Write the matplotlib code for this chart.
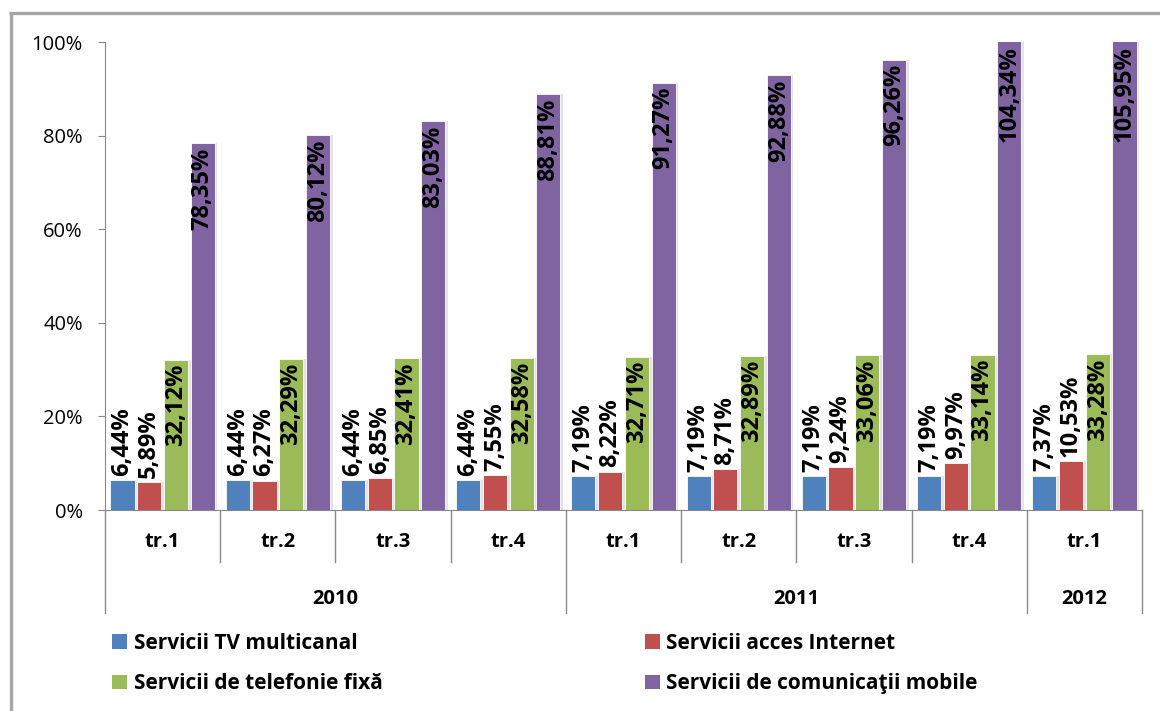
import matplotlib
matplotlib.use('Agg')
import matplotlib.pyplot as plt
import matplotlib.transforms as mtransforms
from matplotlib.patches import Patch
from matplotlib.lines import Line2D
import numpy as np

# === Data ===
quarters = ["tr.1", "tr.2", "tr.3", "tr.4", "tr.1", "tr.2", "tr.3", "tr.4", "tr.1"]
years = ["2010", "2011", "2012"]
year_spans = [(0, 4), (4, 8), (8, 9)]  # group index ranges for each year

series_names = ["Servicii TV multicanal", "Servicii acces Internet",
                "Servicii de telefonie fixă", "Servicii de comunicaţii mobile"]
tv = [6.44, 6.44, 6.44, 6.44, 7.19, 7.19, 7.19, 7.19, 7.37]
internet = [5.89, 6.27, 6.85, 7.55, 8.22, 8.71, 9.24, 9.97, 10.53]
fixed = [32.12, 32.29, 32.41, 32.58, 32.71, 32.89, 33.06, 33.14, 33.28]
mobile = [78.35, 80.12, 83.03, 88.81, 91.27, 92.88, 96.26, 104.34, 105.95]

colors = ["#4F81BD", "#C0504D", "#9BBB59", "#8064A2"]
inside_label = [False, False, True, True]  # label inside bar top vs above bar

plt.rcParams['font.family'] = ['Open Sans', 'DejaVu Sans']

fig = plt.figure(figsize=(11.6, 7.11), dpi=100)
# chart frame: only the left and top edges are visible in the original
fig.add_artist(Line2D([0.0091, 0.0091], [0, 0.9824], color='#a6a6a6', lw=2.4,
                      transform=fig.transFigure, solid_capstyle='butt'))
fig.add_artist(Line2D([0.0078, 1.0], [0.9824, 0.9824], color='#a6a6a6', lw=2.4,
                      transform=fig.transFigure, solid_capstyle='butt'))

ax = fig.add_axes([0.0905, 0.2827, 0.894, 0.6582])

x = np.arange(len(quarters))
step = 0.232
width = 0.21
all_series = [tv, internet, fixed, mobile]

for k, (vals, col) in enumerate(zip(all_series, colors)):
    pos = x + (k - 1.5) * step
    # faint drop shadow like the office chart
    ax.bar(pos + 0.022, np.array(vals) / 100, width, color='#e3e3e3', linewidth=0, zorder=1)
    ax.bar(pos, np.array(vals) / 100, width, color=col, edgecolor='white', linewidth=0.6, zorder=2)
    for px, v in zip(pos, vals):
        txt = f"{v:.2f}".replace('.', ',') + '%'
        top = min(v / 100, 1.0)
        if inside_label[k]:
            off = mtransforms.offset_copy(ax.transData, fig=fig, x=0, y=-3, units='points')
            ax.text(px, top, txt, rotation=90, ha='center', va='top', fontsize=17,
                    fontweight='bold', transform=off, zorder=3)
        else:
            off = mtransforms.offset_copy(ax.transData, fig=fig, x=0, y=3, units='points')
            ax.text(px, top, txt, rotation=90, ha='center', va='bottom', fontsize=17,
                    fontweight='bold', transform=off, zorder=3)

ax.set_xlim(-0.5, len(quarters) - 0.5)
ax.set_ylim(0, 1.0)
ax.set_yticks(np.arange(0, 1.01, 0.2))
ax.set_yticklabels([f"{int(t)}%" for t in np.arange(0, 101, 20)], fontsize=14.5)
ax.tick_params(axis='y', length=5, color='#888888', pad=11)
ax.set_xticks([])

for s in ['top', 'right']:
    ax.spines[s].set_visible(False)
for s in ['left', 'bottom']:
    ax.spines[s].set_color('#888888')

# two-level category axis
trans = mtransforms.blended_transform_factory(ax.transData, ax.transAxes)
year_edges = set()
for a, b in year_spans:
    year_edges.add(a)
    year_edges.add(b)
for i in range(len(quarters) + 1):
    bottom = -0.22 if i in year_edges else -0.111
    ax.plot([i - 0.5, i - 0.5], [0, bottom], color='#888888', lw=1, transform=trans, clip_on=False)
for i, q in enumerate(quarters):
    ax.text(i, -0.068, q, transform=trans, ha='center', va='center', fontsize=14.5, fontweight='bold')
for yr, (a, b) in zip(years, year_spans):
    ax.text((a + b - 1) / 2, -0.19, yr, transform=trans, ha='center', va='center',
            fontsize=14.5, fontweight='bold')

handles = [Patch(facecolor=colors[i], label=series_names[i]) for i in [0, 2, 1, 3]]
fig.legend(handles=handles, ncol=2, loc='upper left', bbox_to_anchor=(0.088, 0.125),
           frameon=False, prop={'weight': 'bold', 'size': 15}, borderpad=0,
           handlelength=0.72, handleheight=0.72, handletextpad=0.3,
           columnspacing=12.6, labelspacing=0.95)

fig.savefig('out.png', dpi=100)
